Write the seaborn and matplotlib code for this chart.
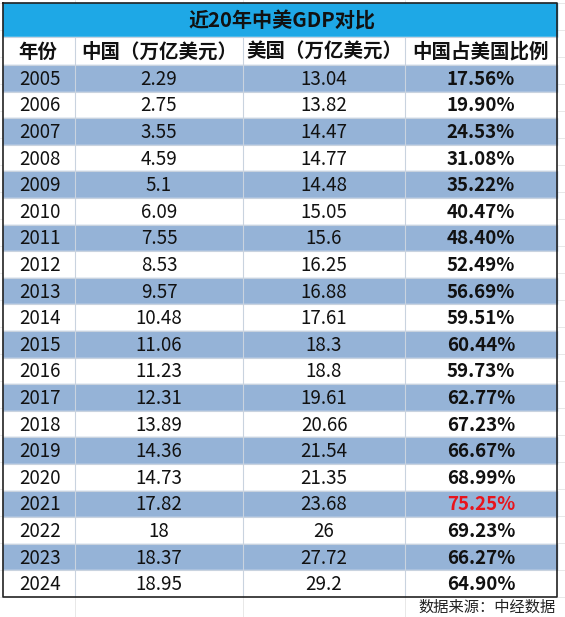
import matplotlib
matplotlib.use("Agg")
import matplotlib.pyplot as plt
import seaborn as sns

sns.set_style("white")
plt.rcParams["font.family"] = ["Noto Sans CJK SC", "DejaVu Sans"]

title = "近20年中美GDP对比"
headers = ["年份", "中国（万亿美元）", "美国（万亿美元）", "中国占美国比例"]
years = list(range(2005, 2025))
china = ["2.29", "2.75", "3.55", "4.59", "5.1", "6.09", "7.55", "8.53", "9.57", "10.48",
         "11.06", "11.23", "12.31", "13.89", "14.36", "14.73", "17.82", "18", "18.37", "18.95"]
usa = ["13.04", "13.82", "14.47", "14.77", "14.48", "15.05", "15.6", "16.25", "16.88", "17.61",
       "18.3", "18.8", "19.61", "20.66", "21.54", "21.35", "23.68", "26", "27.72", "29.2"]
ratio = ["17.56%", "19.90%", "24.53%", "31.08%", "35.22%", "40.47%", "48.40%", "52.49%",
         "56.69%", "59.51%", "60.44%", "59.73%", "62.77%", "67.23%", "66.67%", "68.99%",
         "75.25%", "69.23%", "66.27%", "64.90%"]
highlight_year = 2021
source = "数据来源：中经数据"

W, H = 565, 617
fig = plt.figure(figsize=(W / 100, H / 100), dpi=100)
ax = fig.add_axes([0, 0, 1, 1])
ax.set_xlim(0, W)
ax.set_ylim(H, 0)
ax.axis("off")

x0, x1 = 3, 557
col_edges = [3, 75, 243, 405, 557]
title_top, title_bot = 3, 37
head_bot = 65
row_h = (597 - head_bot) / len(years)

# spreadsheet grid behind
for y in range(3, H, 27):
    ax.axhline(y, color="#e4e4e4", lw=0.6, zorder=0)
for x in [75, 243, 405]:
    ax.axvline(x, color="#e4e4e4", lw=0.6, zorder=0)

ax.fill_between([x0, x1], title_top, title_bot, color="#1ea8e6", zorder=1)
ax.fill_between([x0, x1], title_bot, head_bot, color="white", zorder=1)
ax.text((x0 + x1) / 2 + 2, (title_top + title_bot) / 2 + 1, title, ha="center", va="center",
        fontsize=14.5, fontweight="bold", color="#111111", zorder=3)

centers = [(col_edges[i] + col_edges[i + 1]) / 2 for i in range(4)]
for i, h in enumerate(headers):
    cx = 18 if i == 0 else centers[i]
    ax.text(cx, (title_bot + head_bot) / 2 + 1, h, ha="left" if i == 0 else "center",
            va="center", fontsize=14, fontweight="bold", color="#111111", zorder=3)

for r, yr in enumerate(years):
    top = head_bot + r * row_h
    bot = top + row_h
    mid = (top + bot) / 2 + 1
    fill = "#95b3d7" if r % 2 == 0 else "white"
    ax.fill_between([x0, x1], top, bot, color=fill, zorder=1)
    ax.text(19, mid, str(yr), ha="left", va="center", fontsize=13.5, color="#111111", zorder=3)
    ax.text(centers[1], mid, china[r], ha="center", va="center", fontsize=13.5, color="#111111", zorder=3)
    ax.text(centers[2], mid, usa[r], ha="center", va="center", fontsize=13.5, color="#111111", zorder=3)
    ax.text(centers[3], mid, ratio[r], ha="center", va="center", fontsize=13.5, fontweight="bold",
            color="#e8141c" if yr == highlight_year else "#111111", zorder=3)

# table lines
ys = [title_top, title_bot, head_bot] + [head_bot + (r + 1) * row_h for r in range(len(years))]
for y in ys[1:-1]:
    ax.plot([x0, x1], [y, y], color="#c9d3df", lw=0.8, zorder=2)
for x in col_edges[1:-1]:
    ax.plot([x, x], [title_bot, ys[-1]], color="#c9d3df", lw=0.8, zorder=2)
ax.plot([x0, x1, x1, x0, x0], [title_top, title_top, ys[-1], ys[-1], title_top],
        color="#222222", lw=1.2, zorder=4)

ax.text(556, 607, source, ha="right", va="center", fontsize=11, color="#222222", zorder=3)

fig.savefig("out.png", dpi=100)
